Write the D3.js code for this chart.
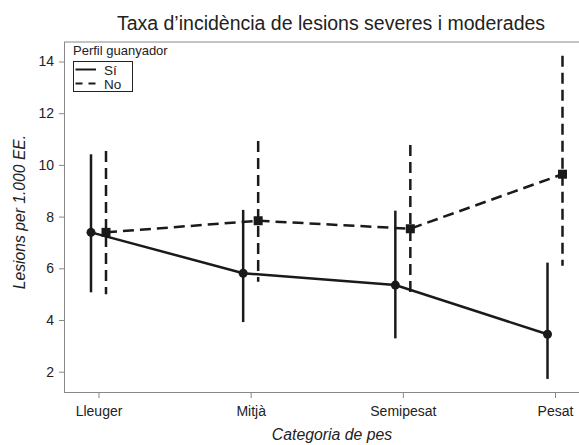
<!DOCTYPE html>
<html>
<head>
<meta charset="utf-8">
<script src="https://cdn.jsdelivr.net/npm/d3@7"></script>
<style>
  body { margin: 0; background: #fff; }
  text { font-family: "Liberation Sans", Arial, sans-serif; }
</style>
</head>
<body>
<svg id="chart"></svg>
<script>
// categories and values
const categories = ["Lleuger", "Mitjà", "Semipesat", "Pesat"];
const yTicks = [2, 4, 6, 8, 10, 12, 14];

const siRate = [7.39, 5.81, 5.35, 3.45];
const siLow = [5.07, 3.92, 3.29, 1.72];
const siHigh = [10.41, 8.26, 8.23, 6.22];

const noRate = [7.39, 7.84, 7.53, 9.64];
const noLow = [5.0, 5.48, 4.99, 6.1];
const noHigh = [10.54, 10.92, 10.77, 14.22];

const seriesNames = ["Sí", "No"];

function DrawChart(targetElem, width, height) {

    const svg = d3.select(targetElem)
        .attr("width", width)
        .attr("height", height);

    const left = 64, top = 42, bottom = 392, right = width;

    // X scale
    const x = d3.scalePoint()
        .domain(categories)
        .range([98.5, 555]);

    // Y scale
    const y = d3.scaleLinear()
        .domain([2, 14])
        .range([371.7, 61.5]);

    const offset = 7.5;

    // frame lines
    svg.append("line")
        .attr("x1", left).attr("x2", right)
        .attr("y1", top).attr("y2", top)
        .attr("stroke", "#888").attr("stroke-width", 1);

    // Axes
    const xAxis = svg.append("g")
        .attr("transform", `translate(0, ${bottom})`)
        .call(d3.axisBottom(x).tickSize(6).tickSizeOuter(0).tickPadding(8));

    const yAxis = svg.append("g")
        .attr("transform", `translate(${left}, 0)`)
        .call(d3.axisLeft(y).tickValues(yTicks).tickSize(5).tickPadding(5));

    xAxis.select(".domain").attr("d", `M${left},0.5H${right}`);
    yAxis.select(".domain").attr("d", `M0.5,${top}V${bottom}`);

    [xAxis, yAxis].forEach(g => {
        g.select(".domain").attr("stroke", "#888");
        g.selectAll(".tick line").attr("stroke", "#888");
        g.selectAll(".tick text")
            .attr("fill", "#222")
            .style("font-size", "14px")
            .style("font-family", "'Liberation Sans', Arial, sans-serif");
    });

    const series = [
        { name: "Sí", rate: siRate, low: siLow, high: siHigh, dx: -offset, dash: null },
        { name: "No", rate: noRate, low: noLow, high: noHigh, dx: offset, dash: "11,6" }
    ];

    series.forEach(s => {
        const pts = categories.map((c, i) => ({
            cx: x(c) + s.dx, rate: s.rate[i], low: s.low[i], high: s.high[i]
        }));

        // error bars
        svg.selectAll(null)
            .data(pts)
            .enter()
            .append("line")
            .attr("x1", d => d.cx).attr("x2", d => d.cx)
            .attr("y1", d => y(d.high)).attr("y2", d => y(d.low))
            .attr("stroke", "#1a1a1a")
            .attr("stroke-width", 2.5)
            .attr("stroke-dasharray", s.dash);

        // connecting line
        svg.append("path")
            .datum(pts)
            .attr("d", d3.line().x(d => d.cx).y(d => y(d.rate)))
            .attr("fill", "none")
            .attr("stroke", "#1a1a1a")
            .attr("stroke-width", 2.5)
            .attr("stroke-dasharray", s.dash);

        // markers
        if (s.name === "Sí") {
            svg.selectAll(null)
                .data(pts)
                .enter()
                .append("circle")
                .attr("cx", d => d.cx)
                .attr("cy", d => y(d.rate))
                .attr("r", 4.5)
                .attr("fill", "#1a1a1a");
        } else {
            svg.selectAll(null)
                .data(pts)
                .enter()
                .append("rect")
                .attr("x", d => d.cx - 4.5)
                .attr("y", d => y(d.rate) - 4.5)
                .attr("width", 9)
                .attr("height", 9)
                .attr("fill", "#1a1a1a");
        }
    });

    // Title
    svg.append("text")
        .attr("x", 331)
        .attr("y", 30)
        .attr("text-anchor", "middle")
        .style("font-size", "19.5px")
        .attr("fill", "#222")
        .text("Taxa d’incidència de lesions severes i moderades");

    // Axis labels
    svg.append("text")
        .attr("x", 332)
        .attr("y", 440)
        .attr("text-anchor", "middle")
        .style("font-size", "15.8px")
        .style("font-style", "italic")
        .attr("fill", "#222")
        .text("Categoria de pes");

    svg.append("text")
        .attr("transform", "translate(25, 212) rotate(-90)")
        .attr("text-anchor", "middle")
        .style("font-size", "15.7px")
        .style("font-style", "italic")
        .attr("fill", "#222")
        .text("Lesions per 1.000 EE.");

    // Legend
    const lg = svg.append("g").attr("transform", "translate(73, 0)");
    lg.append("text")
        .attr("x", 0).attr("y", 55)
        .style("font-size", "13px")
        .attr("fill", "#222")
        .text("Perfil guanyador");
    lg.append("rect")
        .attr("x", 0.5).attr("y", 61.5)
        .attr("width", 59).attr("height", 30)
        .attr("fill", "none")
        .attr("stroke", "#222")
        .attr("stroke-width", 1);

    lg.selectAll(".key")
        .data(seriesNames)
        .enter()
        .append("line")
        .attr("x1", 2.5).attr("x2", 23)
        .attr("y1", (d, i) => 69.5 + i * 14)
        .attr("y2", (d, i) => 69.5 + i * 14)
        .attr("stroke", "#1a1a1a")
        .attr("stroke-width", 2)
        .attr("stroke-dasharray", d => d === "No" ? "7,6" : null);

    lg.selectAll(".keytext")
        .data(seriesNames)
        .enter()
        .append("text")
        .attr("x", 31)
        .attr("y", (d, i) => 74.5 + i * 14)
        .style("font-size", "13.5px")
        .attr("fill", "#222")
        .text(d => d);
}

DrawChart("#chart", 579, 445);
</script>
</body>
</html>
